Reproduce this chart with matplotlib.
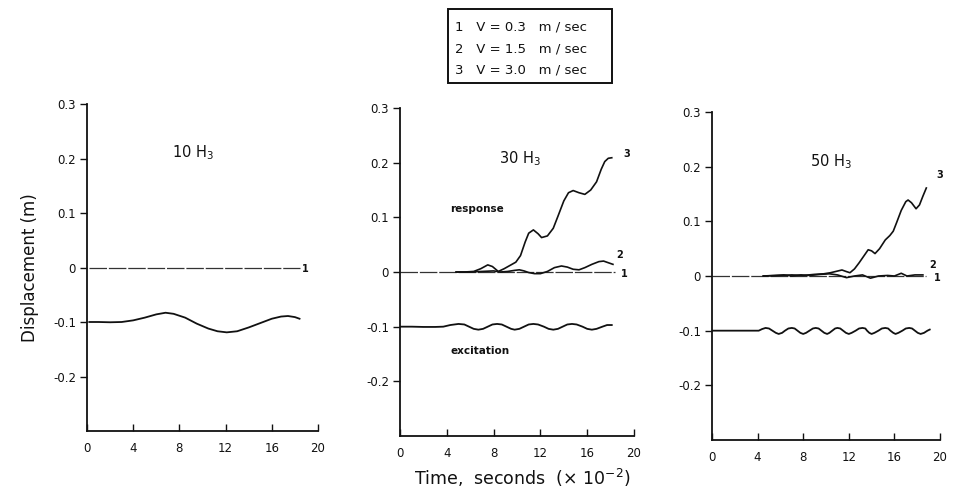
import matplotlib
matplotlib.use("Agg")
import matplotlib.pyplot as plt

# ---------------- data ----------------
x_ticks = [0, 4, 8, 12, 16, 20]
y_ticks = [0.3, 0.2, 0.1, 0.0, -0.1, -0.2]
y_tick_labels = ["0.3", "0.2", "0.1", "0", "-0.1", "-0.2"]
panel_titles = ["10 H$_3$", "30 H$_3$", "50 H$_3$"]
legend_lines = ["1   V = 0.3   m / sec", "2   V = 1.5   m / sec", "3   V = 3.0   m / sec"]

# panel 1 (10 H3)
p1_v1_t = [0.2, 18.4]
p1_v1_y = [0.0, 0.0]
p1_exc_t = [0.2, 1, 2, 3, 4, 5, 6, 6.8, 7.5, 8.5, 9.5, 10.5, 11.3, 12.1, 13, 14, 15, 16, 16.8, 17.4, 18, 18.4]
p1_exc_y = [-0.100, -0.100, -0.1005, -0.100, -0.097, -0.092, -0.086, -0.083, -0.085, -0.092, -0.103,
            -0.112, -0.117, -0.119, -0.117, -0.110, -0.102, -0.094, -0.090, -0.089, -0.091, -0.094]

# panel 2 (30 H3)
p2_v1_t = [0.0, 18.4]
p2_v1_y = [0.0, 0.0]
p2_v2_t = [4.8, 6.0, 7.0, 8.0, 8.6, 9.2, 9.8, 10.2, 10.6, 11.0, 11.5, 12.0, 12.6, 13.2, 13.8, 14.3,
           14.8, 15.3, 15.8, 16.4, 17.0, 17.4, 17.8, 18.2]
p2_v2_y = [0.0, 0.0, 0.001, 0.002, 0.000, 0.001, 0.003, 0.004, 0.002, -0.001, -0.003, -0.003, 0.001,
           0.008, 0.011, 0.009, 0.005, 0.004, 0.008, 0.014, 0.019, 0.020, 0.017, 0.014]
p2_v3_t = [4.8, 5.5, 6.3, 6.9, 7.5, 7.9, 8.4, 8.9, 9.4, 9.9, 10.3, 10.7, 11.0, 11.4, 11.8, 12.1, 12.6,
           13.1, 13.5, 14.0, 14.4, 14.8, 15.3, 15.8, 16.3, 16.8, 17.2, 17.5, 17.8, 18.1]
p2_v3_y = [0.0, 0.0, 0.001, 0.006, 0.013, 0.010, 0.001, 0.006, 0.012, 0.018, 0.030, 0.055, 0.071, 0.077,
           0.070, 0.063, 0.066, 0.080, 0.102, 0.130, 0.145, 0.149, 0.145, 0.142, 0.150, 0.165, 0.188,
           0.202, 0.208, 0.209]
p2_exc_t = [0, 1, 2, 3, 3.7, 4.3, 5.0, 5.5, 5.9, 6.3, 6.7, 7.1, 7.5, 7.9, 8.3, 8.7, 9.1, 9.5, 9.8, 10.2,
            10.6, 11.0, 11.4, 11.8, 12.3, 12.7, 13.1, 13.5, 13.9, 14.3, 14.7, 15.1, 15.6, 16.0, 16.4,
            16.8, 17.3, 17.7, 18.1]
p2_exc_y = [-0.1, -0.1, -0.1005, -0.1005, -0.100, -0.097, -0.095, -0.096, -0.100, -0.104, -0.1055, -0.104,
            -0.100, -0.096, -0.095, -0.096, -0.100, -0.104, -0.1055, -0.104, -0.100, -0.096, -0.095,
            -0.096, -0.100, -0.104, -0.1055, -0.104, -0.100, -0.096, -0.095, -0.096, -0.100, -0.104,
            -0.1055, -0.104, -0.100, -0.097, -0.097]

# panel 3 (50 H3)
p3_v1_t = [0.0, 18.8]
p3_v1_y = [0.0, 0.0]
p3_v2_t = [4.5, 5.5, 6.3, 7.0, 7.8, 8.6, 9.5, 10.3, 11.0, 11.8, 12.5, 13.2, 13.9, 14.6, 15.4, 16.0,
           16.6, 17.1, 17.8, 18.5]
p3_v2_y = [0.0, 0.001, 0.002, 0.000, 0.002, 0.001, 0.003, 0.004, 0.002, -0.003, 0.000, 0.002, -0.004,
           0.000, 0.001, 0.000, 0.005, 0.000, 0.002, 0.002]
p3_v3_t = [4.5, 6.0, 7.0, 8.0, 9.0, 9.8, 10.4, 11.0, 11.4, 11.8, 12.1, 12.5, 12.9, 13.3, 13.7, 14.0,
           14.3, 14.7, 15.2, 15.6, 15.9, 16.2, 16.6, 17.0, 17.2, 17.5, 17.9, 18.2, 18.5, 18.8]
p3_v3_y = [0.0, 0.001, 0.002, 0.001, 0.003, 0.004, 0.006, 0.009, 0.011, 0.008, 0.006, 0.013, 0.024,
           0.036, 0.048, 0.046, 0.041, 0.050, 0.066, 0.074, 0.082, 0.098, 0.120, 0.136, 0.139, 0.134,
           0.123, 0.130, 0.146, 0.161]
p3_exc_t = [0, 1, 2, 3, 4.1, 4.4, 4.7, 5.0, 5.3, 5.6, 5.85, 6.15, 6.4, 6.7, 7.0, 7.25, 7.5, 7.75, 8.0,
            8.25, 8.55, 8.85, 9.1, 9.35, 9.6, 9.85, 10.1, 10.3, 10.55, 10.8, 11.0, 11.25, 11.5, 11.75,
            12.0, 12.25, 12.6, 12.9, 13.2, 13.45, 13.6, 13.8, 14.0, 14.25, 14.6, 14.9, 15.2, 15.45,
            15.65, 15.9, 16.1, 16.35, 16.7, 17.0, 17.3, 17.55, 17.8, 18.05, 18.3, 18.6, 18.9, 19.1]
p3_exc_y = [-0.1, -0.1, -0.1, -0.1, -0.1, -0.097, -0.095, -0.096, -0.1, -0.104, -0.106, -0.104, -0.1,
            -0.096, -0.095, -0.096, -0.1, -0.104, -0.106, -0.104, -0.1, -0.096, -0.095, -0.096, -0.1,
            -0.104, -0.106, -0.104, -0.1, -0.096, -0.095, -0.096, -0.1, -0.104, -0.106, -0.104, -0.1,
            -0.096, -0.095, -0.096, -0.1, -0.104, -0.106, -0.104, -0.1, -0.096, -0.095, -0.096, -0.1,
            -0.104, -0.106, -0.104, -0.1, -0.096, -0.095, -0.096, -0.1, -0.104, -0.106, -0.104, -0.1,
            -0.098]

# ---------------- figure ----------------
plt.rcParams['font.family'] = ['DejaVu Sans']
fig = plt.figure(figsize=(9.58, 4.98), dpi=100)

rects = [
    [87 / 958, 1 - 431 / 498, 231 / 958, 327 / 498],
    [400 / 958, 1 - 436 / 498, 234 / 958, 328 / 498],
    [712 / 958, 1 - 440 / 498, 228 / 958, 328 / 498],
]

panels = [
    dict(v1=(p1_v1_t, p1_v1_y), v2=None, v3=None, exc=(p1_exc_t, p1_exc_y),
         labels=[("1", 18.6, -0.002)], title_xy=(9.2, 0.21)),
    dict(v1=(p2_v1_t, p2_v1_y), v2=(p2_v2_t, p2_v2_y), v3=(p2_v3_t, p2_v3_y), exc=(p2_exc_t, p2_exc_y),
         labels=[("1", 18.9, -0.004), ("2", 18.5, 0.031), ("3", 19.1, 0.216)], title_xy=(10.3, 0.207)),
    dict(v1=(p3_v1_t, p3_v1_y), v2=(p3_v2_t, p3_v2_y), v3=(p3_v3_t, p3_v3_y), exc=(p3_exc_t, p3_exc_y),
         labels=[("1", 19.5, -0.004), ("2", 19.1, 0.021), ("3", 19.7, 0.184)], title_xy=(10.4, 0.209)),
]

ink = "#111111"
axes = []
for i, (rect, p) in enumerate(zip(rects, panels)):
    ax = fig.add_axes(rect)
    axes.append(ax)
    ax.set_xlim(0, 20)
    ax.set_ylim(-0.3, 0.3)
    for s in ["top", "right"]:
        ax.spines[s].set_visible(False)
    for s in ["left", "bottom"]:
        ax.spines[s].set_linewidth(1.3)
        ax.spines[s].set_color(ink)
    ax.set_xticks(x_ticks)
    ax.set_xticklabels([str(v) for v in x_ticks])
    ax.set_yticks(y_ticks)
    ax.set_yticklabels(y_tick_labels)
    ax.tick_params(axis="x", direction="in", length=5, width=1, colors=ink, labelsize=8.5, pad=8)
    ax.tick_params(axis="y", direction="out", length=5, width=1, colors=ink, labelsize=8.5, pad=3)
    ax.patch.set_alpha(0)

    t, y = p["v1"]
    ax.plot(t, y, color="#333333", lw=0.9, dashes=(14, 1.5))
    if p["v2"] is not None:
        ax.plot(*p["v2"], color=ink, lw=1.2)
    if p["v3"] is not None:
        ax.plot(*p["v3"], color=ink, lw=1.2)
    ax.plot(*p["exc"], color=ink, lw=1.3)

    for lab, lx, ly in p["labels"]:
        ax.text(lx, ly, lab, fontsize=7, fontweight="bold", color=ink, ha="left", va="center", clip_on=False)
    ax.text(p["title_xy"][0], p["title_xy"][1], panel_titles[i], fontsize=10.5, color=ink,
            ha="center", va="center")

axes[1].text(4.3, 0.116, "response", fontsize=7.5, fontweight="bold", color=ink, ha="left", va="center")
axes[1].text(4.3, -0.145, "excitation", fontsize=7.5, fontweight="bold", color=ink, ha="left", va="center")

axes[0].set_ylabel("Displacement (m)", fontsize=12, color=ink, labelpad=10)

fig.text(522 / 958, 1 - 478 / 498, "Time,  seconds  ($\\times$ 10$^{-2}$)", fontsize=12.5, color=ink,
         ha="center", va="center")

# legend box
box_x0, box_x1 = 448 / 958, 612 / 958
box_y0, box_y1 = 1 - 83 / 498, 1 - 9 / 498
fig.patches.append(plt.Rectangle((box_x0, box_y0), box_x1 - box_x0, box_y1 - box_y0,
                                 transform=fig.transFigure, fill=False, lw=1.4, ec=ink))
for k, line in enumerate(legend_lines):
    fig.text(455 / 958, 1 - (27 + 21.5 * k) / 498, line, fontsize=9.5, color=ink, ha="left", va="center")

fig.savefig("out.png", dpi=100)
